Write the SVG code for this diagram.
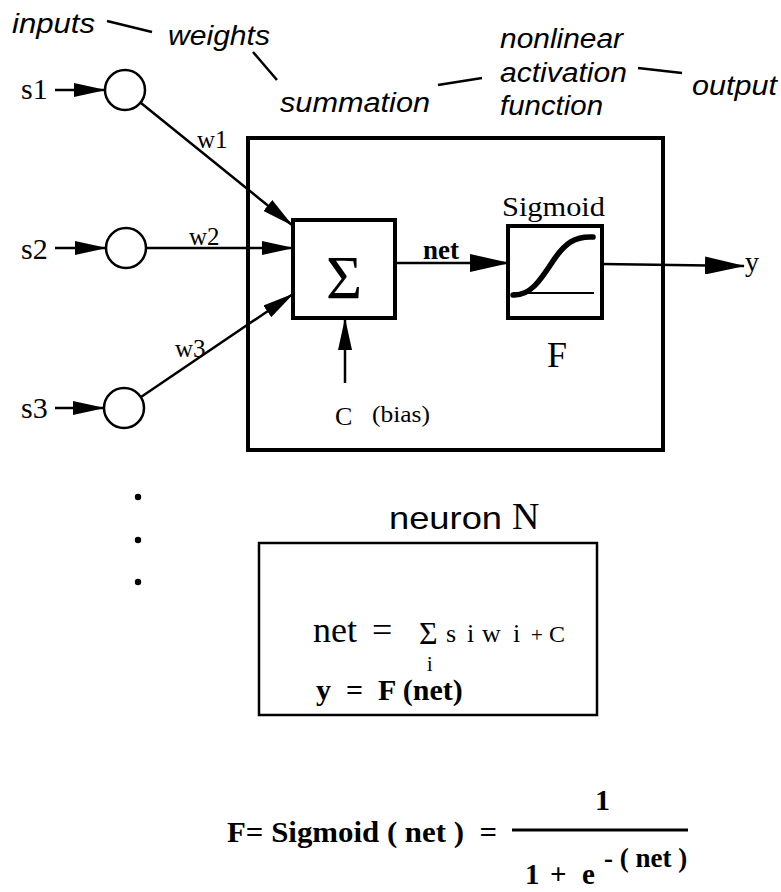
<svg xmlns="http://www.w3.org/2000/svg" width="781" height="892" viewBox="0 0 781 892">
<style>
.ann{font-family:"Liberation Sans",Arial,sans-serif;font-style:italic;font-size:27px;fill:#000}
.ser{font-family:"Liberation Serif","Times New Roman",serif;fill:#000}
.bold{font-weight:bold}
.sans{font-family:"Liberation Sans",Arial,sans-serif;fill:#000}
.thin{stroke:#000;stroke-width:2.5;fill:none}
.box{stroke:#000;stroke-width:4;fill:#fff}
</style>
<defs>
<marker id="ah" markerUnits="userSpaceOnUse" markerWidth="32" markerHeight="14" refX="31" refY="7" orient="auto">
<path d="M0,0 L32,7 L0,14 z" fill="#000"/>
</marker>
<marker id="ahL" markerUnits="userSpaceOnUse" markerWidth="40" markerHeight="18" refX="39" refY="9" orient="auto">
<path d="M0,0 L40,9 L0,18 z" fill="#000"/>
</marker>
</defs>
<rect width="781" height="892" fill="#fff"/>

<g id="annotations">
<text class="ann" x="12" y="33" textLength="83" lengthAdjust="spacingAndGlyphs">inputs</text>
<text class="ann" x="168" y="45" textLength="102" lengthAdjust="spacingAndGlyphs">weights</text>
<text class="ann" x="280" y="112" textLength="150" lengthAdjust="spacingAndGlyphs">summation</text>
<text class="ann" x="500" y="48" textLength="123" lengthAdjust="spacingAndGlyphs">nonlinear</text>
<text class="ann" x="500" y="82" textLength="127" lengthAdjust="spacingAndGlyphs">activation</text>
<text class="ann" x="500" y="115" textLength="103" lengthAdjust="spacingAndGlyphs">function</text>
<text class="ann" x="692" y="95" textLength="85" lengthAdjust="spacingAndGlyphs">output</text>
<line class="thin" x1="107" y1="21" x2="152" y2="32"/>
<line class="thin" x1="253" y1="52" x2="277" y2="80"/>
<line class="thin" x1="438" y1="85" x2="482" y2="78"/>
<line class="thin" x1="638" y1="68" x2="682" y2="73"/>
</g>

<g id="neuron">
<rect class="box" x="248" y="138" width="415" height="312"/>
</g>

<g id="input1">
<text class="ser" x="21" y="99" font-size="30">s1</text>
<circle class="thin" cx="125" cy="90" r="20" fill="#fff"/>
</g>
<g id="input2">
<text class="ser" x="21" y="259" font-size="30">s2</text>
<circle class="thin" cx="126" cy="248" r="20" fill="#fff"/>
</g>
<g id="input3">
<text class="ser" x="21" y="418" font-size="30">s3</text>
<circle class="thin" cx="124" cy="408" r="20" fill="#fff"/>
</g>

<g id="summation">
<rect class="box" x="293" y="220" width="102" height="98"/>
<text class="ser" x="344" y="298" font-size="62" text-anchor="middle">Σ</text>
</g>

<g id="sigmoid">
<text class="ser" x="502" y="216" font-size="28" textLength="103" lengthAdjust="spacingAndGlyphs">Sigmoid</text>
<rect class="box" x="508" y="226" width="94" height="92"/>
<line x1="513" y1="293" x2="594" y2="293" stroke="#000" stroke-width="2"/>
<path d="M513,295 C530,296 540,281 553,261 C565,243 575,236 593,237" stroke="#000" stroke-width="5.5" fill="none" stroke-linecap="round"/>
<text class="ser" x="547" y="367" font-size="36">F</text>
</g>

<g id="bias">
<text class="ser" x="335" y="425" font-size="26">C</text>
<text class="ser" x="372" y="422" font-size="24" textLength="58" lengthAdjust="spacingAndGlyphs">(bias)</text>
</g>

<g id="output">
<text class="ser" x="745" y="271" font-size="28">y</text>
</g>

<g id="connectors">
<line class="thin" x1="55" y1="90" x2="105" y2="90" marker-end="url(#ah)"/>
<line class="thin" x1="55" y1="248" x2="106" y2="248" marker-end="url(#ah)"/>
<line class="thin" x1="55" y1="408" x2="104" y2="408" marker-end="url(#ah)"/>
<line class="thin" x1="141" y1="103" x2="292" y2="225" marker-end="url(#ah)"/>
<line class="thin" x1="146" y1="248" x2="293" y2="248" marker-end="url(#ah)"/>
<line class="thin" x1="141" y1="397" x2="293" y2="294" marker-end="url(#ah)"/>
<line class="thin" x1="345" y1="383" x2="345" y2="319" marker-end="url(#ah)"/>
<line class="thin" x1="395" y1="263" x2="509" y2="263" marker-end="url(#ahL)"/>
<line class="thin" x1="602" y1="264" x2="744" y2="266" marker-end="url(#ahL)"/>
<text class="ser" x="197" y="148" font-size="25">w1</text>
<text class="ser" x="189" y="245" font-size="25">w2</text>
<text class="ser" x="175" y="357" font-size="25">w3</text>
<text class="ser bold" x="423" y="259" font-size="27">net</text>
</g>

<g id="ellipsis">
<circle cx="138" cy="497" r="3.2" fill="#000"/>
<circle cx="138" cy="540" r="3.2" fill="#000"/>
<circle cx="138" cy="582" r="3.2" fill="#000"/>
</g>

<g id="neuron-label">
<text class="sans" x="389" y="529" font-size="32" textLength="113" lengthAdjust="spacingAndGlyphs">neuron</text>
<text class="ser" x="512" y="529" font-size="38">N</text>
</g>

<g id="formula-box">
<rect x="259" y="543" width="338" height="172" fill="#fff" stroke="#000" stroke-width="2.5"/>
<text class="ser" x="313" y="642" font-size="36">net</text>
<text class="ser" x="372" y="642" font-size="36">=</text>
<text class="ser" x="419" y="644" font-size="32">Σ</text>
<text class="ser" x="427" y="671" font-size="20">i</text>
<text class="ser" x="446" y="642" font-size="26">s</text>
<text class="ser" x="467" y="642" font-size="26">i</text>
<text class="ser" x="482" y="642" font-size="26">w</text>
<text class="ser" x="513" y="642" font-size="26">i</text>
<text class="ser" x="531" y="642" font-size="21">+</text>
<text class="ser" x="549" y="642" font-size="24">C</text>
<text class="ser bold" x="316" y="700" font-size="30" xml:space="preserve">y  =  F (net)</text>
</g>

<g id="sigmoid-formula">
<text class="ser bold" x="227" y="842" font-size="30" textLength="270" lengthAdjust="spacingAndGlyphs" xml:space="preserve">F= Sigmoid ( net )  =</text>
<text class="ser bold" x="595" y="810" font-size="30">1</text>
<line x1="512" y1="830" x2="688" y2="830" stroke="#000" stroke-width="3"/>
<text class="ser bold" x="525" y="884" font-size="29">1</text>
<text class="ser bold" x="550" y="884" font-size="29">+</text>
<text class="ser bold" x="582" y="884" font-size="29">e</text>
<text class="ser bold" x="604" y="867" font-size="27" xml:space="preserve">- ( net )</text>
</g>
</svg>
